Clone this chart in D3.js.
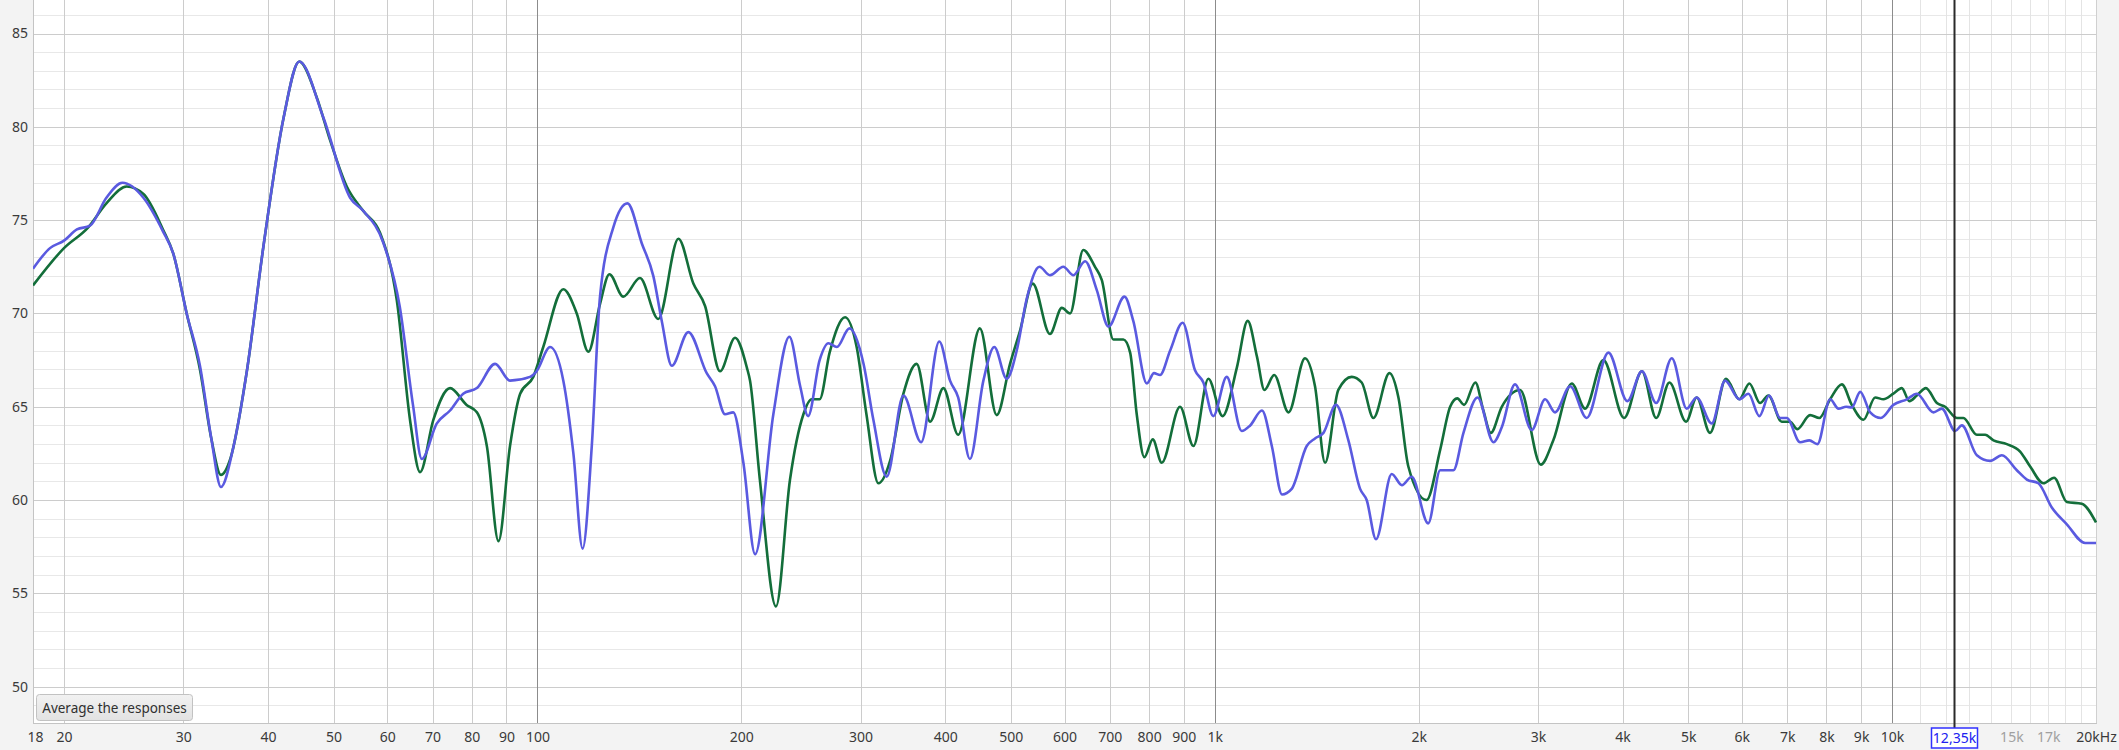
<!DOCTYPE html>
<html>
<head>
<meta charset="utf-8">
<script src="https://cdn.jsdelivr.net/npm/d3@7/dist/d3.min.js"></script>
<style>
  html, body { margin: 0; padding: 0; background: #f3f3f3; }
  svg { display: block; font-family: "Noto Sans", "Open Sans", sans-serif; }
</style>
</head>
<body>
<svg id="chart" width="2119" height="750"></svg>
<script>
// ---------- data ----------
const greenFreq = [18,20,21.7,23.1,24.75,26.2,28,29,30.35,31.75,33,34.1,35.2,37.2,39.4,42.2,44.5,47.2,49.4,52.3,55.3,58.6,62,64.9,67.1,
  70.2,74.3,78.6,81.4,84.2,87.6,91.1,94.3,98.6,102,109.2,114.3,118.9,123.7,127.7,133.9,141.7,150.8,161.5,169.9,176.8,186,195.8,203.8,
  206,213,225,236,247,254,261,270,284.6,296,306,318.7,331.6,347,363,380,397.5,418,450,476.5,498.6,516,538.6,571,594.5,611.5,639.5,
  665.6,681,708.5,733,750,767,787,810,835,888.6,930,978.5,1027,1078,1118.5,1154,1184,1224,1285,1359,1406,1455,1522,1593,1648,1715,1811,1867,1931,2054,
  2152,2226,2281,2334,2425,2492,2556,2653,2824,3029,3161,3366,3521,3748,4021,4272,4484,4691,4964,5146,5385,5686,5950,6156,6383,
  6566,6872,7069,7247,7566,7810,8100,8430,8720,9072,9440,9709,10043,10334,10606,10876,11217,11644,11975,12461,12742,13338,13721,14114,14771,15453,15989,16727,17345,18112,19058,20000];
const greenDb = [71.5,73.5,74.6,75.9,76.8,76.4,74.5,73.2,70.0,67.0,63.3,61.35,62.2,66.8,73.6,80.5,83.5,81.6,79.3,76.8,75.5,74.3,70.7,64.2,61.5,
  64.3,66.0,65.1,64.7,62.9,57.8,62.9,65.7,66.6,68.2,71.3,70.0,67.95,70.5,72.1,70.9,71.9,69.7,74.0,71.6,70.4,66.9,68.7,67.1,
  66.4,61.1,54.3,61.1,64.6,65.4,65.4,67.9,69.8,68.2,64.6,60.9,62.1,65.7,67.3,64.2,66.0,63.5,69.2,64.55,67.3,69.1,71.6,68.9,70.3,70.0,73.4,
  72.5,71.8,68.6,68.6,67.9,64.6,62.3,63.25,62.0,65.0,62.9,66.5,64.5,67.1,69.6,67.7,65.9,66.7,64.7,67.6,66.1,62.0,65.9,66.6,66.3,64.4,66.8,65.5,61.8,60.0,
  62.7,65.0,65.45,65.1,66.3,64.8,63.6,65.0,65.9,61.9,63.2,66.25,64.9,67.5,64.4,66.9,64.4,66.3,64.2,65.5,63.6,66.5,65.4,66.25,65.2,
  65.6,64.2,64.2,63.8,64.55,64.4,65.4,66.2,65.1,64.3,65.5,65.4,65.7,66.0,65.3,65.6,66.0,65.2,65.0,64.4,64.4,63.5,63.5,63.2,63.0,62.6,61.8,60.9,61.2,59.9,59.8,58.8];

const blueFreq = [18,19.07,20,20.9,21.85,23.1,24.4,26.2,28,29,30.35,31.75,33,34.1,35.6,37.2,39.4,42.2,44.5,48.3,52.9,55.3,59.2,62.6,65.5,67.5,
  71,74.3,77.7,81.4,86.6,91.1,97.5,99.7,104.4,109.2,113,116.6,120.3,123.7,129.4,135.8,142.6,148.3,152.6,157.9,167,177.8,182.9,189.2,194.6,201.4,209.6,
  223,235.5,244.3,251,261,268.9,276.7,288.8,303,313.3,327.8,347,368.5,392,406.6,418,435,455.4,472.6,493,510,527.8,551,571,597.6,618.5,643.5,
  669.6,696.7,735.7,758,794,813.4,830.3,859,896.6,935,962,995,1041.5,1096,1128,1174,1214,1257,1299,1367,1406,1447,1510,1575,1639,1676,1730,1825,1889,1953,2066,
  2152,2251,2329,2443,2579,2653,2775,2937,3074,3180,3347,3541,3812,4066,4272,4484,4729,4975,5146,5416,5668,5950,6136,6368,
  6583,6833,6991,7314,7549,7757,8100,8334,8555,8720,8973,9283,9623,10043,10514,10876,11509,11840,12391,12674,13338,13953,14521,15280,15810,16441,17210,18112,19274,20000];
const blueDb = [72.4,73.5,73.9,74.5,74.7,76.2,77.0,76.2,74.4,73.2,70.0,67.2,63.3,60.7,62.9,66.8,73.6,80.5,83.5,80.5,76.2,75.5,73.8,70.4,65.1,62.2,
  64.1,64.8,65.7,66.0,67.3,66.4,66.6,66.9,68.2,66.4,62.5,57.4,62.9,70.9,74.6,75.9,73.75,72.0,69.6,67.2,69.0,66.8,66.1,64.6,64.7,62.0,57.1,
  64.6,68.75,66.1,64.5,67.5,68.4,68.2,69.2,67.3,64.3,61.25,65.6,63.1,68.5,66.4,65.5,62.2,66.4,68.2,66.5,68.0,70.8,72.5,72.05,72.5,72.05,72.8,
  71.25,69.3,70.9,69.6,66.25,66.8,66.7,68.0,69.5,66.96,66.3,64.5,66.6,63.7,64.0,64.8,62.9,60.3,60.6,62.9,63.3,63.6,65.1,63.2,60.6,60.0,57.9,61.4,60.8,61.25,58.75,
  61.6,61.6,63.6,65.5,63.1,63.9,66.2,63.75,65.4,64.7,66.1,64.4,67.9,65.3,66.9,65.2,67.6,64.9,65.5,64.1,66.4,65.4,65.7,64.5,
  65.6,64.4,64.4,63.1,63.2,63.0,65.4,64.9,65.0,64.96,65.8,64.7,64.4,65.1,65.4,65.7,64.7,64.9,63.7,64.0,62.4,62.1,62.4,61.6,61.1,60.9,59.6,58.7,57.7,57.7];

const yTicks = [50, 55, 60, 65, 70, 75, 80, 85];
const xTickValues = [18, 20, 30, 40, 50, 60, 70, 80, 90, 100, 200, 300, 400, 500, 600, 700, 800, 900,
  1000, 2000, 3000, 4000, 5000, 6000, 7000, 8000, 9000, 10000, 20000];
const xTickLabels = ["18", "20", "30", "40", "50", "60", "70", "80", "90", "100", "200", "300", "400", "500", "600", "700", "800", "900",
  "1k", "2k", "3k", "4k", "5k", "6k", "7k", "8k", "9k", "10k", "20kHz"];
const faintTickValues = [15000, 17000];
const faintTickLabels = ["15k", "17k"];
const gridMain = [20, 30, 40, 50, 60, 70, 80, 90, 200, 300, 400, 500, 600, 700, 800, 900,
  2000, 3000, 4000, 5000, 6000, 7000, 8000, 9000];
const gridDecade = [100, 1000, 10000];
const gridFine = [11000, 12000, 13000, 14000, 15000, 16000, 17000, 18000, 19000];
const cursorFreq = 12350;
const cursorLabel = "12,35k";
const buttonLabel = "Average the responses";

// ---------- layout ----------
const W = 2119, H = 750;
const plotL = 33, plotR = 2096, plotT = 0, plotB = 723;
const x = d3.scaleLog().domain([18, 20000]).range([plotL, plotR]);
const y = d3.scaleLinear().domain([50, 85]).range([686.7, 33.5]);

const svg = d3.select("#chart");
svg.append("rect").attr("width", W).attr("height", H).attr("fill", "#f3f3f3");
svg.append("rect").attr("x", plotL).attr("y", plotT).attr("width", plotR - plotL).attr("height", plotB - plotT).attr("fill", "#ffffff");

const grid = svg.append("g");
// horizontal minor (1 dB)
const minorDb = d3.range(49, 87).filter(d => d % 5 !== 0);
grid.selectAll("line.hmin").data(minorDb).join("line")
  .attr("x1", plotL).attr("x2", plotR)
  .attr("y1", d => Math.round(y(d)) + 0.5).attr("y2", d => Math.round(y(d)) + 0.5)
  .attr("stroke", "#e8e8e8").attr("stroke-width", 1);
// vertical fine
grid.selectAll("line.vfine").data(gridFine).join("line")
  .attr("x1", d => Math.round(x(d)) + 0.5).attr("x2", d => Math.round(x(d)) + 0.5)
  .attr("y1", plotT).attr("y2", plotB)
  .attr("stroke", "#e4e4e4").attr("stroke-width", 1);
// horizontal major
grid.selectAll("line.hmaj").data(yTicks).join("line")
  .attr("x1", plotL).attr("x2", plotR)
  .attr("y1", d => Math.round(y(d)) + 0.5).attr("y2", d => Math.round(y(d)) + 0.5)
  .attr("stroke", "#cccccc").attr("stroke-width", 1);
// vertical main
grid.selectAll("line.vmaj").data(gridMain).join("line")
  .attr("x1", d => Math.round(x(d)) + 0.5).attr("x2", d => Math.round(x(d)) + 0.5)
  .attr("y1", plotT).attr("y2", plotB)
  .attr("stroke", "#cccccc").attr("stroke-width", 1);
// decades
grid.selectAll("line.vdec").data(gridDecade).join("line")
  .attr("x1", d => Math.round(x(d)) + 0.5).attr("x2", d => Math.round(x(d)) + 0.5)
  .attr("y1", plotT).attr("y2", plotB)
  .attr("stroke", "#8c8c8c").attr("stroke-width", 1);

// plot border
svg.append("line").attr("x1", plotL + 0.5).attr("x2", plotL + 0.5).attr("y1", plotT).attr("y2", plotB + 1).attr("stroke", "#c4c4c4");
svg.append("line").attr("x1", plotR + 0.5).attr("x2", plotR + 0.5).attr("y1", plotT).attr("y2", plotB + 1).attr("stroke", "#d0d0d0");
svg.append("line").attr("x1", plotL).attr("x2", plotR + 1).attr("y1", plotB + 0.5).attr("y2", plotB + 0.5).attr("stroke", "#c4c4c4");

// clip
svg.append("clipPath").attr("id", "clip").append("rect")
  .attr("x", plotL).attr("y", plotT).attr("width", plotR - plotL + 1).attr("height", plotB - plotT);

const line = d3.line().x(d => x(d[0])).y(d => y(d[1])).curve(d3.curveMonotoneX);
const lines = svg.append("g").attr("clip-path", "url(#clip)");
lines.append("path").datum(d3.zip(greenFreq, greenDb))
  .attr("d", line).attr("fill", "none").attr("stroke", "#136e3a").attr("stroke-width", 2.6)
  .attr("stroke-linejoin", "round");
lines.append("path").datum(d3.zip(blueFreq, blueDb))
  .attr("d", line).attr("fill", "none").attr("stroke", "#5a5ae0").attr("stroke-width", 2.6)
  .attr("stroke-linejoin", "round");

// y axis
const yAxis = svg.append("g").attr("transform", `translate(${plotL},0)`)
  .call(d3.axisLeft(y).tickValues(yTicks).tickSize(0).tickPadding(5).tickFormat(d3.format("d")));
yAxis.select(".domain").remove();
yAxis.selectAll("text").attr("font-size", 14).attr("fill", "#3a3a3a").attr("font-family", "'Noto Sans', sans-serif");

// x axis
const xAxis = svg.append("g").attr("transform", `translate(0,${plotB})`)
  .call(d3.axisBottom(x).tickValues(xTickValues).tickSize(0).tickPadding(9)
    .tickFormat((d, i) => xTickLabels[i]));
xAxis.select(".domain").remove();
xAxis.selectAll("text").attr("font-size", 14).attr("fill", "#3a3a3a").attr("font-family", "'Noto Sans', sans-serif");
xAxis.selectAll(".tick").filter(d => d === 18).attr("transform", `translate(${x(18) + 2.5},0)`);

const xFaint = svg.append("g").attr("transform", `translate(0,${plotB})`)
  .call(d3.axisBottom(x).tickValues(faintTickValues).tickSize(0).tickPadding(9)
    .tickFormat((d, i) => faintTickLabels[i]));
xFaint.select(".domain").remove();
xFaint.selectAll("text").attr("font-size", 14).attr("fill", "#a0a0a0").attr("font-family", "'Noto Sans', sans-serif");

// cursor
const cx = Math.round(x(cursorFreq)) + 0.5;
svg.append("line").attr("x1", cx).attr("x2", cx).attr("y1", plotT).attr("y2", 728)
  .attr("stroke", "#2a2a2a").attr("stroke-width", 2);
const cg = svg.append("g");
cg.append("rect").attr("x", cx - 23).attr("y", 728).attr("width", 46).attr("height", 20)
  .attr("fill", "#ffffff").attr("stroke", "#3030ff").attr("stroke-width", 1.5);
cg.append("text").attr("x", cx).attr("y", 743).attr("text-anchor", "middle")
  .attr("font-size", 14).attr("fill", "#2020f0").attr("font-family", "'Noto Sans', sans-serif")
  .text(cursorLabel);

// button
const defs = svg.append("defs");
const grad = defs.append("linearGradient").attr("id", "btn").attr("x1", 0).attr("y1", 0).attr("x2", 0).attr("y2", 1);
grad.append("stop").attr("offset", "0%").attr("stop-color", "#f2f2f2");
grad.append("stop").attr("offset", "100%").attr("stop-color", "#e2e2e2");
svg.append("rect").attr("x", 36.5).attr("y", 694.5).attr("width", 156).attr("height", 26).attr("rx", 3)
  .attr("fill", "url(#btn)").attr("stroke", "#c2c2c2");
svg.append("text").attr("x", 114.5).attr("y", 712.5).attr("text-anchor", "middle")
  .attr("font-size", 13.5).attr("fill", "#303030").attr("font-family", "'Noto Sans', sans-serif")
  .text(buttonLabel);
</script>
</body>
</html>
